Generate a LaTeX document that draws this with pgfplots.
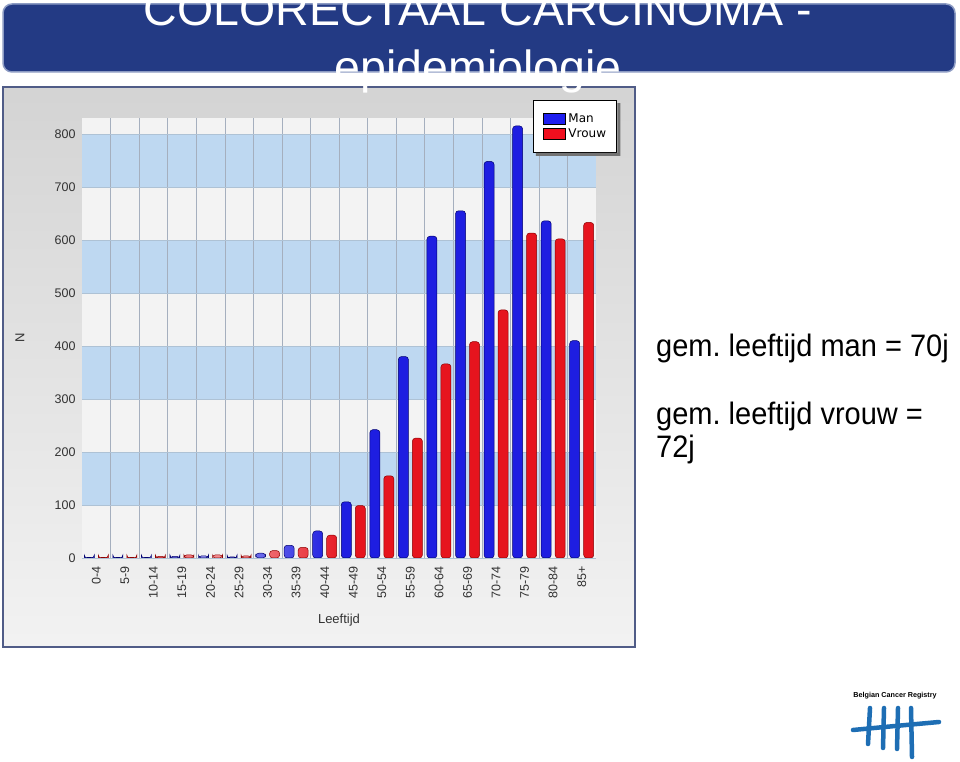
\documentclass[border=0pt]{standalone}
\usepackage{pgfplots}
\pgfplotsset{compat=1.18}
\usepackage{fontspec}
\setmainfont{Liberation Sans}
\newfontfamily\verdana{DejaVu Sans}
\frenchspacing

\definecolor{banner}{RGB}{35,58,132}
\definecolor{bannerrim}{RGB}{140,155,195}
\definecolor{framerim}{RGB}{80,92,135}
\definecolor{band}{RGB}{190,216,241}
\definecolor{plotbg}{RGB}{243,243,243}
\definecolor{gridc}{RGB}{165,175,190}
\definecolor{mandark}{RGB}{0,0,110}
\definecolor{manmid}{RGB}{30,30,225}
\definecolor{vrdark}{RGB}{140,0,0}
\definecolor{vrmid}{RGB}{230,20,30}
\definecolor{legblue}{RGB}{30,30,240}
\definecolor{legred}{RGB}{240,15,30}
\definecolor{logoblue}{RGB}{30,110,180}
\definecolor{ticktext}{RGB}{50,50,50}

\pgfdeclarehorizontalshading{manbar}{100bp}{color(0bp)=(mandark); color(22bp)=(manmid); color(38bp)=(manmid!45!white); color(50bp)=(manmid); color(78bp)=(manmid); color(100bp)=(mandark)}
\pgfdeclarehorizontalshading{vrbar}{100bp}{color(0bp)=(vrdark); color(22bp)=(vrmid); color(38bp)=(vrmid!45!white); color(50bp)=(vrmid); color(78bp)=(vrmid); color(100bp)=(vrdark)}

\pgfplotstableread{
cat man vrouw
0 1 1
1 1 1
2 1 3
3 3 6
4 4 6
5 2 4
6 9 14
7 24 20
8 51 43
9 106 99
10 242 155
11 380 226
12 607 366
13 655 408
14 748 468
15 815 613
16 636 602
17 410 633
}\incidence

\begin{document}
\begin{tikzpicture}
\begin{scope}[x=1pt,y=1pt]
\clip (0,0) rectangle (960,762);
\fill[white] (0,0) rectangle (960,762);
% title banner
\draw[rounded corners=9pt, fill=banner, draw=bannerrim, line width=1.5pt] (3,690) rectangle (955,758);
% chart frame
\shade[top color=black!17, bottom color=black!5] (3,115) rectangle (635,675);
\draw[framerim, line width=1.3pt] (3,115) rectangle (635,675);
% plot background with alternating bands (0..830 over 204..644)
\fill[plotbg] (82,204) rectangle (596,644);
\fill[band] (82,257.0) rectangle (596,310.0);
\fill[band] (82,363.0) rectangle (596,416.1);
\fill[band] (82,469.1) rectangle (596,522.1);
\fill[band] (82,575.1) rectangle (596,628.1);
\end{scope}

\begin{axis}[
  at={(82pt,204pt)}, anchor=south west,
  width=514pt, height=440pt, scale only axis,
  xmin=-0.5, xmax=17.5, ymin=0, ymax=830,
  ybar, bar width=10pt,
  xtick={0,...,17},
  xticklabels={0-4,5-9,10-14,15-19,20-24,25-29,30-34,35-39,40-44,45-49,50-54,55-59,60-64,65-69,70-74,75-79,80-84,85+},
  ytick={0,100,...,800},
  minor x tick num=1,
  xminorgrids, ymajorgrids,
  minor grid style={gridc, line width=0.5pt},
  major grid style={band!75!gray, line width=0.4pt},
  axis line style={draw=none},
  major tick length=0pt, minor tick length=0pt,
  tick style={draw=none},
  /pgf/number format/assume math mode=true,
  tick label style={font=\fontsize{12.5}{14}\selectfont, text=ticktext},
  x tick label style={rotate=90, anchor=east, xshift=-5pt},
  y tick label style={xshift=-3pt},
  xlabel={Leeftijd}, ylabel={N},
  label style={font=\fontsize{13}{15}\selectfont, text=ticktext},
  xlabel style={at={(axis description cs:0.5,0)}, anchor=center, yshift=-62pt},
  ylabel style={at={(axis description cs:0,0.5)}, anchor=center, yshift=62pt},
  legend style={at={(0.8774,1.0409)}, anchor=north west, name=leg,
    font=\verdana\fontsize{12}{14}\selectfont,
    draw=black, line width=1.4pt, fill=white,
    inner xsep=9pt, inner ysep=12pt, row sep=1pt,
    nodes={inner sep=1.5pt},
    /tikz/every odd column/.append style={column sep=1.5pt}},
  legend cell align=left,
]
\addplot[forget plot, bar shift=-7pt, draw=mandark, line width=0.5pt, shading=manbar, rounded corners=3pt]
  table[x=cat, y=man] {\incidence};
\addplot[forget plot, bar shift=7pt, draw=vrdark, line width=0.5pt, shading=vrbar, rounded corners=3pt]
  table[x=cat, y=vrouw] {\incidence};
\addlegendimage{legend image code/.code={\draw[draw=black, fill=legblue, line width=0.8pt] (0pt,-5.5pt) rectangle (22pt,5.5pt);}}
\addlegendentry{Man}
\addlegendimage{legend image code/.code={\draw[draw=black, fill=legred, line width=0.8pt] (0pt,-5.5pt) rectangle (22pt,5.5pt);}}
\addlegendentry{Vrouw}
\end{axis}
% legend drop shadow
\fill[black!55] ([yshift=-3pt]leg.north east) -- ([xshift=3pt,yshift=-3pt]leg.north east)
  -- ([xshift=3pt,yshift=-3pt]leg.south east) -- ([xshift=3pt,yshift=-3pt]leg.south west)
  -- ([xshift=3pt]leg.south west) -- (leg.south east) -- cycle;

\begin{scope}[x=1pt,y=1pt]
% right-hand text
\node[anchor=base west, inner sep=0pt, yscale=1.07, font=\fontsize{29}{34}\selectfont] at (656,405) {gem. leeftijd man = 70j};
\node[anchor=base west, inner sep=0pt, yscale=1.07, font=\fontsize{29}{34}\selectfont] at (656,337) {gem. leeftijd vrouw =};
\node[anchor=base west, inner sep=0pt, yscale=1.07, font=\fontsize{29}{34}\selectfont] at (656,304) {72j};
% logo
\node[anchor=base, inner sep=0pt, font=\bfseries\fontsize{7.2}{9}\selectfont] at (895,64) {Belgian Cancer Registry};
\begin{scope}[logoblue, line width=4.5pt, line cap=round]
  \draw (870,54) -- (868,18);
  \draw (884,54) -- (883,14);
  \draw (898,54) -- (897,13);
  \draw (911,54) -- (912,5);
  \draw (853,32) .. controls (895,36) .. (939,40);
\end{scope}
% title text
\begin{scope}
\clip (0,0) rectangle (960,762);
\node[anchor=base, inner sep=0pt, text=white, font=\fontsize{46.5}{57}\selectfont] at (478,736) {COLORECTAAL CARCINOMA -};
\node[anchor=base, inner sep=0pt, text=white, font=\fontsize{46.5}{57}\selectfont] at (478,678) {epidemiologie};
\end{scope}
\useasboundingbox (0,0) rectangle (960,762);
\end{scope}
\end{tikzpicture}
\end{document}
